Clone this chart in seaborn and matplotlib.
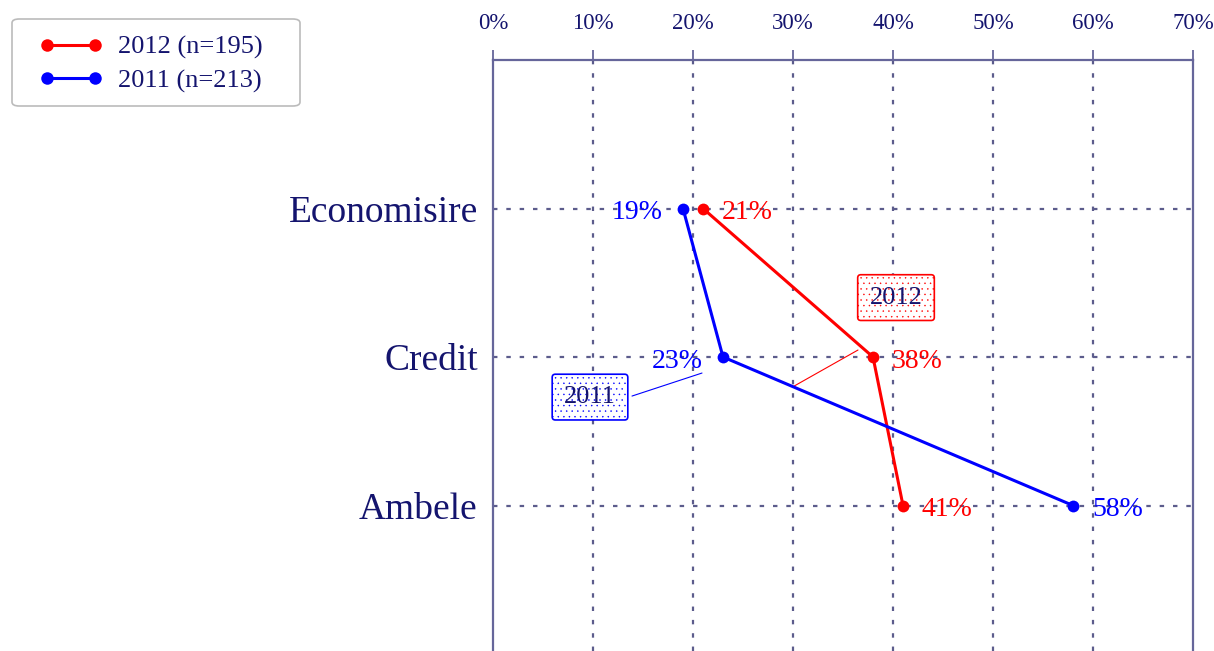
import numpy as np
import pandas as pd
import seaborn as sns
import matplotlib.pyplot as plt
from matplotlib.patches import FancyBboxPatch
from matplotlib.legend_handler import HandlerLine2D

# data
categories = ['Economisire', 'Credit', 'Ambele']
pct_2012 = [21, 38, 41]
pct_2011 = [19, 23, 58]
label_2012 = '2012 (n=195)'
label_2011 = '2011 (n=213)'
x_ticks = [0, 10, 20, 30, 40, 50, 60, 70]

navy = '#14146e'
axis_col = '#66669a'
grid_col = '#5c5c8c'

sns.set_style('white')
plt.rcParams['font.family'] = ['Liberation Serif', 'DejaVu Serif']
plt.rcParams['hatch.linewidth'] = 0.3

pos = np.arange(1, len(categories) + 1)
df = pd.DataFrame({
    'cat': categories * 2,
    'y': np.concatenate([pos, pos]),
    'pct': pct_2012 + pct_2011,
    'year': [label_2012] * 3 + [label_2011] * 3,
})

W, H = 1214, 651
fig = plt.figure(figsize=(W / 100, H / 100), dpi=100)
ax = fig.add_axes([493 / W, 0, 700 / W, 591 / H])

palette = {label_2012: 'red', label_2011: 'blue'}
sns.lineplot(data=df, x='pct', y='y', hue='year', palette=palette, sort=False,
             estimator=None, marker='o', markersize=8.5, markeredgewidth=0,
             linewidth=2.2, ax=ax, zorder=3)

ax.set_xlim(0, 70)
ax.set_ylim(591 / 148.5, 0)
ax.set_xticks(x_ticks)
ax.set_xticklabels([f'{v}%' for v in x_ticks])
ax.xaxis.tick_top()
ax.tick_params(axis='x', direction='out', length=7, width=1.3, color=axis_col,
               labelsize=16.5, labelcolor=navy, pad=12)
ax.set_yticks(pos)
ax.set_yticklabels(categories)
ax.tick_params(axis='y', length=0, labelsize=27, labelcolor=navy, pad=11)
ax.set_xlabel('')
ax.set_ylabel('')

# dashed grid
for v in x_ticks[1:-1]:
    ax.axvline(v, color=grid_col, lw=1.6, ls=(0, (2, 4)), zorder=1)
for p in pos:
    ax.axhline(p, color=grid_col, lw=1.6, ls=(0, (2, 4)), zorder=1)

for s in ['top', 'left', 'right']:
    ax.spines[s].set_color(axis_col)
    ax.spines[s].set_linewidth(1.6)
ax.spines['bottom'].set_visible(False)

# value labels
lab_fs = 20
for p, v in zip(pos, pct_2012):
    ax.text(v + 1.9, p + 0.03, f'{v}%', color='red', fontsize=lab_fs, va='center', ha='left', zorder=4)
for p, v, side in zip(pos, pct_2011, ['left', 'left', 'right']):
    if side == 'left':
        ax.text(v - 2.0, p + 0.03, f'{v}%', color='blue', fontsize=lab_fs, va='center', ha='right', zorder=4)
    else:
        ax.text(v + 1.9, p + 0.03, f'{v}%', color='blue', fontsize=lab_fs, va='center', ha='left', zorder=4)

# series callouts
ax.plot([36.5, 30.0], [1.953, 2.20], color='red', lw=0.8, zorder=2)
ax.plot([13.9, 20.9], [2.263, 2.108], color='blue', lw=0.8, zorder=2)
ax.text(40.3, 1.60, '2012', color=navy, fontsize=19, ha='center', va='center',
        bbox=dict(boxstyle='round,pad=0.45,rounding_size=0.12', fc='white', ec='red', lw=1.2, hatch='...'))
ax.text(9.7, 2.27, '2011', color=navy, fontsize=19, ha='center', va='center',
        bbox=dict(boxstyle='round,pad=0.45,rounding_size=0.12', fc='white', ec='blue', lw=1.2, hatch='...'))

# legend, frame drawn separately
handles, labels = ax.get_legend_handles_labels()
leg = ax.legend(handles, labels, loc='upper left', bbox_to_anchor=(11 / W, 1 - 18 / H),
                bbox_transform=fig.transFigure, numpoints=2, fontsize=19,
                frameon=False, handlelength=3.22, borderpad=0.66, labelspacing=0.37,
                borderaxespad=0, handletextpad=0.17,
                handler_map={h: HandlerLine2D(marker_pad=0.7, numpoints=2) for h in handles})
for t in leg.get_texts():
    t.set_color(navy)
for h in leg.legend_handles:
    h.set_markersize(9)
frame = FancyBboxPatch((12 / W, 1 - 106 / H), 288 / W, 87 / H,
                       boxstyle='round,pad=0,rounding_size=0.006', transform=fig.transFigure,
                       fc='none', ec='#bbbbbb', lw=1.2, zorder=-1)
fig.patches.append(frame)

fig.savefig('out.png', dpi=100)
